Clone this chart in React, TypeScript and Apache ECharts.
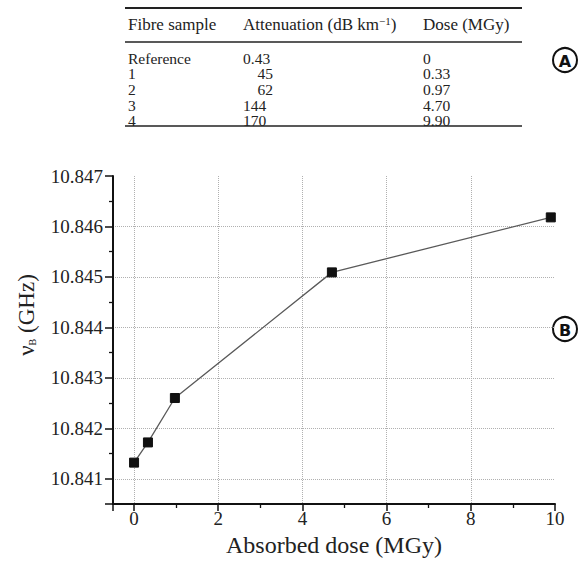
import React, { useEffect, useRef } from 'react';
import * as echarts from 'echarts';

// ---- data ----
const doses = [0, 0.33, 0.97, 4.7, 9.9];
const brillouinGHz = [10.84132, 10.84172, 10.8426, 10.84509, 10.84618];

const tableHeaders = ['Fibre sample', 'Attenuation (dB km{sup|\u22121})', 'Dose (MGy)'];
const samples = ['Reference', '1', '2', '3', '4'];
const attenuation = ['0.43', '45', '62', '144', '170'];
const doseText = ['0', '0.33', '0.97', '4.70', '9.90'];

const SERIF = '"Liberation Serif", "Times New Roman", serif';
const SANS = '"DejaVu Sans", "Noto Sans", sans-serif';
const TEXT = '#222';

export default function App() {
  const ref = useRef<HTMLDivElement>(null);

  useEffect(() => {
    const chart = echarts.init(ref.current!, null, { renderer: 'svg' });
    const isMultiple = (v: number, step: number) =>
      Math.abs(v / step - Math.round(v / step)) < 1e-6;

    const colX = [128, 243, 423];
    const headerY = 24;
    const rowY0 = 58;
    const rowStep = 15.7;

    const graphics: any[] = [];
    // table rules
    graphics.push({ type: 'line', shape: { x1: 125, y1: 8, x2: 522, y2: 8 }, style: { stroke: TEXT, lineWidth: 2 } });
    graphics.push({ type: 'line', shape: { x1: 125, y1: 42, x2: 522, y2: 42 }, style: { stroke: TEXT, lineWidth: 1.3 } });
    graphics.push({ type: 'line', shape: { x1: 125, y1: 126, x2: 522, y2: 126 }, style: { stroke: TEXT, lineWidth: 1.3 } });
    // headers
    tableHeaders.forEach((h, i) => {
      graphics.push({
        type: 'text',
        x: colX[i],
        y: headerY,
        style: {
          text: h,
          fontFamily: SERIF,
          fontSize: 17,
          fill: TEXT,
          align: 'left',
          verticalAlign: 'middle',
          rich: { sup: { fontSize: 11, fontFamily: SERIF, verticalAlign: 'top', fill: TEXT } },
        },
      });
    });
    // rows
    samples.forEach((s, r) => {
      const y = rowY0 + r * rowStep;
      const att = attenuation[r];
      const twoDigit = att.length === 2;
      const cells = [
        { t: s, x: colX[0], align: 'left' },
        { t: att, x: twoDigit ? colX[1] + 30 : colX[1], align: twoDigit ? 'right' : 'left' },
        { t: doseText[r], x: colX[2], align: 'left' },
      ];
      cells.forEach((c) => {
        graphics.push({
          type: 'text',
          x: c.x,
          y,
          style: {
            text: c.t,
            fontFamily: SERIF,
            fontSize: 15.5,
            lineHeight: 15,
            fill: TEXT,
            align: c.align,
            verticalAlign: 'middle',
          },
        });
      });
    });
    // circled panel letters
    [
      { l: 'A', y: 60 },
      { l: 'B', y: 329 },
    ].forEach((p) => {
      graphics.push({ type: 'circle', shape: { cx: 565, cy: p.y, r: 12 }, style: { fill: '#fff', stroke: '#111', lineWidth: 2 } });
      graphics.push({
        type: 'text',
        x: 565,
        y: p.y + 1,
        style: { text: p.l, fontFamily: SANS, fontWeight: 'bold', fontSize: 16, fill: '#111', align: 'center', verticalAlign: 'middle' },
      });
    });
    // y-axis name (rotated)
    graphics.push({
      type: 'text',
      x: 26,
      y: 315,
      rotation: Math.PI / 2,
      style: {
        text: '{n|\u03bd}{s|B}{n| (GHz)}',
        align: 'center',
        verticalAlign: 'middle',
        fill: TEXT,
        rich: {
          n: { fontFamily: SERIF, fontSize: 23, fill: TEXT },
          s: { fontFamily: SERIF, fontSize: 10, fill: TEXT, verticalAlign: 'bottom' },
        },
      },
    });

    chart.setOption({
      animation: false,
      backgroundColor: '#fff',
      grid: { left: 113, right: 24, top: 176, bottom: 60, containLabel: false },
      xAxis: {
        type: 'value',
        min: -0.5,
        max: 10,
        splitNumber: 5,
        name: 'Absorbed dose (MGy)',
        nameLocation: 'middle',
        nameGap: 15,
        nameTextStyle: { fontFamily: SERIF, fontSize: 24, color: TEXT },
        axisLine: { show: true, onZero: false, lineStyle: { color: '#111', width: 2 } },
        axisTick: { show: true, inside: false, length: 7, lineStyle: { color: '#111', width: 1.5 } },
        minorTick: { show: true, splitNumber: 2, length: 4, lineStyle: { color: '#111', width: 1.3 } },
        axisLabel: {
          fontFamily: SERIF,
          fontSize: 19,
          color: TEXT,
          margin: 5,
          formatter: (v: number) => (isMultiple(v, 2) ? String(Math.round(v)) : ''),
        },
        splitLine: {
          show: true,
          showMinLine: false,
          showMaxLine: false,
          lineStyle: { type: 'dotted', color: '#b0b0b0', width: 1 },
        },
      },
      yAxis: {
        type: 'value',
        min: 10.8405,
        max: 10.847,
        splitNumber: 5,
        axisLine: { show: true, onZero: false, lineStyle: { color: '#111', width: 2 } },
        axisTick: { show: true, inside: false, length: 8, lineStyle: { color: '#111', width: 1.5 } },
        minorTick: { show: true, splitNumber: 2, length: 4, lineStyle: { color: '#111', width: 1.3 } },
        axisLabel: {
          fontFamily: SERIF,
          fontSize: 19,
          color: TEXT,
          margin: 10,
          formatter: (v: number) => (isMultiple(v, 0.001) ? v.toFixed(3) : ''),
        },
        splitLine: {
          show: true,
          showMinLine: false,
          showMaxLine: false,
          lineStyle: { type: 'dotted', color: '#b0b0b0', width: 1 },
        },
      },
      graphic: graphics,
      series: [
        {
          type: 'line',
          data: doses.map((d, i) => [d, brillouinGHz[i]]),
          symbol: 'rect',
          symbolSize: 9,
          itemStyle: { color: '#111', borderColor: '#111' },
          lineStyle: { color: '#5a5a5a', width: 1.3 },
          z: 5,
        },
      ],
    });
    return () => chart.dispose();
  }, []);

  return <div ref={ref} style={{ position: 'fixed', left: 0, top: 0, width: 579, height: 564 }} />;
}
